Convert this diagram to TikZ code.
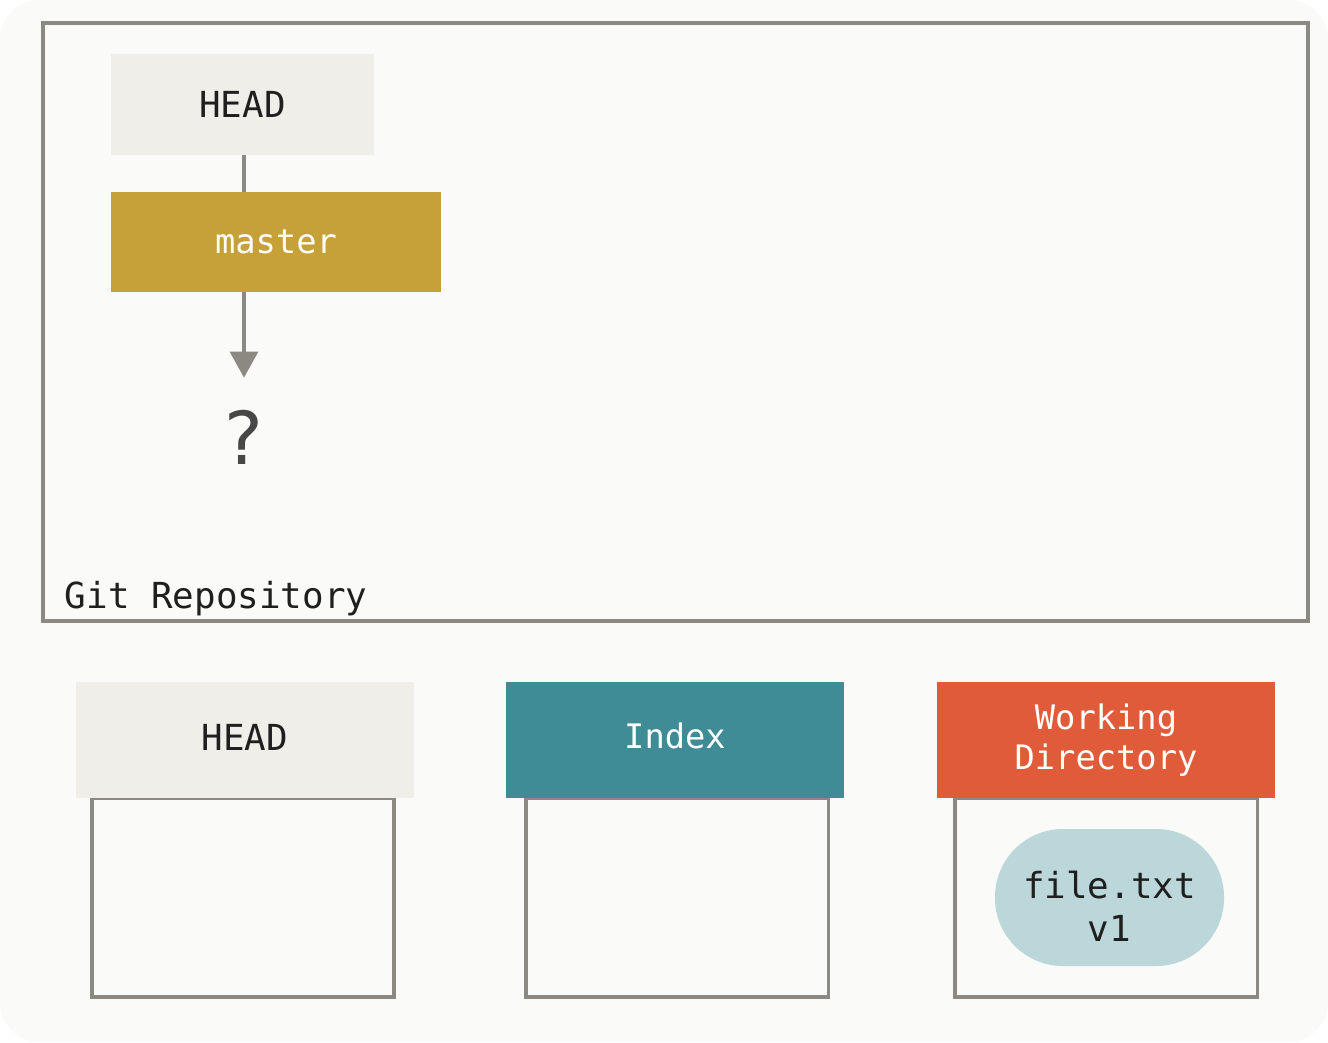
\documentclass[tikz,border=0pt]{standalone}
\usepackage{fontspec}
\setmonofont{DejaVu Sans Mono}
\newfontfamily\qmarkfont{DejaVu Sans}
\usetikzlibrary{arrows.meta}
\definecolor{paper}{RGB}{250,250,248}
\definecolor{framegray}{RGB}{140,136,130}
\definecolor{refbox}{RGB}{239,238,232}
\definecolor{branchgold}{RGB}{197,161,55}
\definecolor{indexteal}{RGB}{63,140,150}
\definecolor{workred}{RGB}{224,91,57}
\definecolor{blobblue}{RGB}{187,215,218}

\begin{document}
\begin{tikzpicture}[x=0.025cm, y=-0.025cm,
	darktext/.style={font=\ttfamily\fontsize{25.5}{30}\selectfont, text=black!88, align=center},
	lighttext/.style={font=\ttfamily\fontsize{24}{28.5}\selectfont, text=white, align=center},
	headbox/.style={inner sep=0pt, minimum width=8.45cm, minimum height=2.9cm},
	treebox/.style={draw=framegray, line width=2.2pt, inner sep=0pt, minimum width=7.55cm, minimum height=4.975cm},
	link/.style={framegray, line width=2.2pt}]
		\fill[white] (0,0) rectangle (1328,1042);
		\fill[paper, rounded corners=1cm] (0,0) rectangle (1328,1042);
		\useasboundingbox (0,0) rectangle (1328,1042);
		\draw[link] (43,23) rectangle (1308,621);
		\node[darktext, anchor=base west] (repo) at (60,608) {Git Repository};
		\node[darktext, fill=refbox, inner sep=0pt, minimum width=6.575cm, minimum height=2.525cm] (headtop) at (242.5,104.5) {HEAD};
		\node[lighttext, fill=branchgold, inner sep=0pt, minimum width=8.25cm, minimum height=2.5cm] (master) at (276,242) {master};
		\node[font=\qmarkfont\fontsize{52}{60}\selectfont, text=black!72, inner sep=0pt] (unknown) at (244,437) {?};
		\draw[link] (unknown |- headtop.south) -- (unknown |- master.north);
		\draw[link, -{Triangle[width=0.7cm, length=0.65cm]}, shorten >=0.8cm] (unknown |- master.south) -- (unknown.north);
		\node[treebox] (headtree) at (243,897.5) {};
		\node[treebox] (indextree) at (677,897.5) {};
		\node[treebox] (worktree) at (1106,897.5) {};
		\node[headbox, darktext, fill=refbox, text depth=0.15cm] (headlbl) at (245,740) {HEAD};
		\node[headbox, lighttext, fill=indexteal, text depth=0.2cm] (indexlbl) at (675,740) {Index};
		\node[headbox, lighttext, fill=workred] (worklbl) at (1106,740) {Working\\Directory};
		\node[fill=blobblue, inner sep=0pt, rounded corners=1.7cm, minimum width=5.725cm, minimum height=3.425cm] (filev1) at (1109.5,897.5) {};
		\node[darktext] (filetxt) at ([yshift=-0.22cm]filev1.center) {file.txt\\v1};
\end{tikzpicture}
\end{document}
